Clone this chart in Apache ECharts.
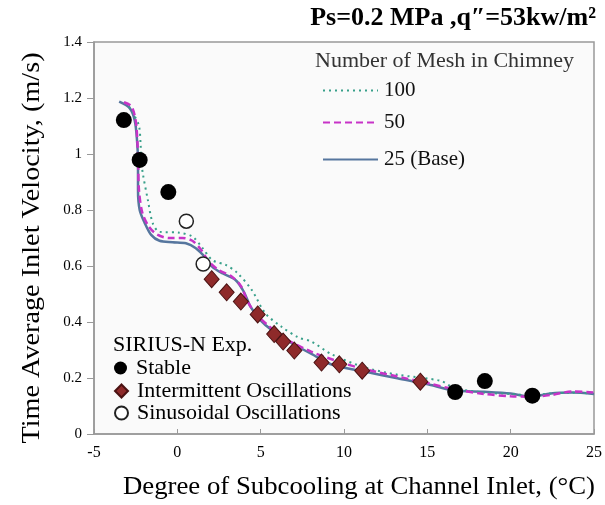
<!DOCTYPE html>
<html><head><meta charset="utf-8">
<script src="https://cdn.jsdelivr.net/npm/echarts@6/dist/echarts.min.js"></script>
<style>html,body{margin:0;padding:0;background:#fff}#c{width:605px;height:505px}</style>
</head><body><div id="c"></div>
<script>
const xTicks = [-5, 0, 5, 10, 15, 20, 25];
const yTicks = [0, 0.2, 0.4, 0.6, 0.8, 1, 1.2, 1.4];
const titleText = 'Ps=0.2 MPa ,q\u2033=53kw/m\u00b2';
const xTitle = 'Degree of Subcooling at Channel Inlet, (\u00b0C)';
const yTitle = 'Time Average Inlet Velocity, (m/s)';
const meshLegendTitle = 'Number of Mesh in Chimney';
const expLegendTitle = 'SIRIUS-N Exp.';
const meshNames = ['100', '50', '25 (Base)'];
const expNames = ['Stable', 'Intermittent Oscillations', 'Sinusoidal Oscillations'];

const mesh25 = [[-3.49,1.187],[-2.86,1.164],[-2.56,1.121],[-2.42,1.05],[-2.36,0.968],[-2.36,0.871],[-2.26,0.80],[-1.96,0.754],[-1.57,0.711],[-1.07,0.69],[-0.28,0.685],[0.52,0.681],[1.11,0.663],[1.71,0.628],[2.1,0.597],[2.7,0.574],[3.49,0.55],[3.99,0.508],[4.39,0.455],[4.98,0.407],[5.67,0.371],[6.87,0.324],[8.05,0.286],[9.25,0.248],[11.23,0.223],[13.2,0.199],[15.2,0.175],[16.6,0.155],[18.4,0.151],[20.0,0.145],[21.2,0.133],[22.4,0.145],[23.7,0.148],[25,0.143]];
const mesh50 = [[-3.2,1.185],[-2.75,1.17],[-2.5,1.12],[-2.4,1.05],[-2.35,0.97],[-2.3,0.87],[-2.1,0.79],[-1.7,0.74],[-1.2,0.712],[-0.5,0.700],[0.3,0.700],[0.9,0.69],[1.4,0.66],[1.9,0.615],[2.5,0.585],[3.2,0.565],[3.8,0.53],[4.2,0.475],[4.7,0.43],[5.4,0.39],[6.5,0.34],[8.0,0.295],[9.5,0.262],[11.0,0.235],[13.0,0.208],[15.0,0.182],[16.6,0.16],[18.4,0.143],[20.0,0.135],[21.2,0.133],[22.5,0.14],[23.7,0.152],[25,0.148]];
const mesh100 = [[-2.9,1.17],[-2.6,1.14],[-2.3,1.1],[-2.2,1.03],[-2.15,0.97],[-2.07,0.93],[-1.77,0.836],[-1.47,0.752],[-1.07,0.722],[0.12,0.719],[0.91,0.705],[1.5,0.665],[2.1,0.621],[2.9,0.604],[3.6,0.575],[4.47,0.514],[5.28,0.431],[6.25,0.383],[7.26,0.345],[8.05,0.33],[9.25,0.285],[11.23,0.238],[13.2,0.212],[15.8,0.19],[16.6,0.165],[18.4,0.148],[20.0,0.143],[21.2,0.138],[22.4,0.145],[23.7,0.147],[25,0.145]];

const stable = [[-3.21,1.121],[-2.26,0.979],[-0.54,0.864],[16.67,0.15],[18.45,0.189],[21.3,0.137]];
const intermittent = [[2.06,0.553],[2.96,0.506],[3.81,0.473],[4.82,0.427],[5.81,0.357],[6.35,0.330],[7.02,0.298],[8.65,0.255],[9.72,0.249],[11.09,0.226],[14.58,0.187]];
const sinusoidal = [[0.54,0.76],[1.55,0.607]];

const serif = '"Liberation Serif","DejaVu Serif",serif';
const meshTops = [80, 112, 149];
const expTops = [357, 380, 402];

const legends = [];
meshNames.forEach((n, i) => legends.push({
  orient: 'vertical', left: 322, top: meshTops[i], padding: 0, itemWidth: 55, itemHeight: 14,
  itemStyle: {color: 'rgba(0,0,0,0)', borderWidth: 0},
  data: [n], textStyle: {fontFamily: serif, fontSize: 21, color: '#111', padding: [0,0,0,1]}
}));
expNames.forEach((n, i) => legends.push({
  orient: 'vertical', left: 114, top: expTops[i], padding: 0, itemWidth: 13, itemHeight: 13,
  data: [n], textStyle: {fontFamily: serif, fontSize: 22, color: '#000', padding: [0,0,0,4]}
}));

const chart = echarts.init(document.getElementById('c'));
chart.setOption({
  animation: false,
  backgroundColor: '#fff',
  textStyle: {fontFamily: serif},
  title: {text: titleText, right: 9, top: 5, padding: 0, textStyle: {fontFamily: serif, fontSize: 26, fontWeight: 'bold', color: '#000'}},
  grid: {left: 94, right: 7, top: 42, bottom: 71, show: true, backgroundColor: '#fafafa', borderColor: '#999', borderWidth: 1.5},
  xAxis: {
    type: 'value', min: -5, max: 25, interval: 5,
    axisLine: {show: true, onZero: false, lineStyle: {color: '#999', width: 1.5}},
    axisTick: {show: true, inside: true, length: 5, lineStyle: {color: '#999'}},
    axisLabel: {fontFamily: serif, fontSize: 16, color: '#000', margin: 11},
    splitLine: {show: false}
  },
  yAxis: {
    type: 'value', min: 0, max: 1.4, interval: 0.2,
    axisLine: {show: true, onZero: false, lineStyle: {color: '#999', width: 1.5}},
    axisTick: {show: true, inside: false, length: 7, lineStyle: {color: '#999'}},
    axisLabel: {fontFamily: serif, fontSize: 15, color: '#000', margin: 12},
    splitLine: {show: false}
  },
  legend: legends,
  graphic: [
    {type: 'text', x: 315, y: 61, style: {text: meshLegendTitle, font: '22px ' + serif, fill: '#333', align: 'left', verticalAlign: 'middle', textAlign: 'left', textVerticalAlign: 'middle'}},
    {type: 'text', x: 113, y: 345, style: {text: expLegendTitle, font: '22px ' + serif, fill: '#000', align: 'left', verticalAlign: 'middle', textAlign: 'left', textVerticalAlign: 'middle'}},
    {type: 'text', x: 359, y: 487, scaleX: 1.07, style: {text: xTitle, font: '25px ' + serif, fill: '#000', align: 'center', verticalAlign: 'middle', textAlign: 'center', textVerticalAlign: 'middle'}},
    {type: 'text', x: 32, y: 248, rotation: Math.PI / 2, scaleX: 1.13, style: {text: yTitle, font: '25px ' + serif, fill: '#000', align: 'center', verticalAlign: 'middle', textAlign: 'center', textVerticalAlign: 'middle'}}
  ],
  series: [
    {name: '100', type: 'line', data: mesh100, smooth: 0.3, symbol: 'none', z: 3,
     lineStyle: {color: '#38a08a', width: 2, type: [2, 4]}, itemStyle: {color: '#38a08a'}},
    {name: '50', type: 'line', data: mesh50, smooth: 0.3, symbol: 'none', z: 3,
     lineStyle: {color: '#c733c7', width: 2.5, type: [7, 4]}, itemStyle: {color: '#c733c7'}},
    {name: '25 (Base)', type: 'line', data: mesh25, smooth: 0.3, symbol: 'none', z: 2,
     lineStyle: {color: '#56769e', width: 2.5}, itemStyle: {color: '#56769e'}},
    {name: 'Stable', type: 'scatter', data: stable, symbol: 'circle', symbolSize: 16, z: 5,
     itemStyle: {color: '#000', opacity: 1}},
    {name: 'Intermittent Oscillations', type: 'scatter', data: intermittent, symbol: 'diamond', symbolSize: [15, 17], z: 5,
     itemStyle: {color: '#8e2a2a', borderColor: '#4a1212', borderWidth: 1, opacity: 1}},
    {name: 'Sinusoidal Oscillations', type: 'scatter', data: sinusoidal, symbol: 'circle', symbolSize: 14, z: 5,
     itemStyle: {color: '#fff', borderColor: '#222', borderWidth: 1.5, opacity: 1}}
  ]
});
</script></body></html>
